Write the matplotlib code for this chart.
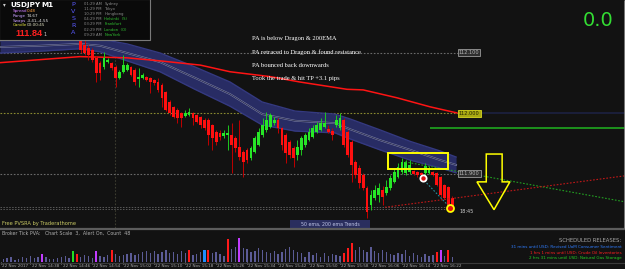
import matplotlib
matplotlib.use("Agg")
import matplotlib.pyplot as plt
import matplotlib.transforms as mtransforms
from matplotlib.patches import Rectangle, Polygon
import numpy as np

# ---------------------------------------------------------------------------- #
# USDJPY M1, 22 Nov 2017 -- candle 0 = 14:51
opens = [112.125, 112.113, 112.108, 112.105, 112.092, 112.083, 112.077, 112.085, 112.083, 112.077,
         112.059, 112.069, 112.072, 112.077, 112.072, 112.057, 112.059, 112.060, 112.059, 112.055,
         112.052, 112.047, 112.035, 112.019, 112.011, 112.006, 112.001, 111.996, 111.998, 112.001,
         111.998, 111.994, 111.989, 111.989, 111.981, 111.969, 111.968, 111.963, 111.964, 111.964,
         111.959, 111.945, 111.936, 111.940, 111.926, 111.936, 111.948, 111.964, 111.973, 111.978,
         111.984, 111.989, 111.976, 111.964, 111.953, 111.943, 111.931, 111.940, 111.948, 111.956,
         111.961, 111.969, 111.973, 111.978, 111.974, 111.971, 111.981, 111.976, 111.989, 111.969,
         111.953, 111.920, 111.910, 111.898, 111.877, 111.849, 111.860, 111.865, 111.873, 111.869,
         111.877, 111.887, 111.895, 111.903, 111.902, 111.903, 111.905, 111.903, 111.902, 111.902,
         111.902, 111.903, 111.902, 111.895, 111.882, 111.878, 111.860]
highs = [112.130, 112.122, 112.113, 112.108, 112.095, 112.087, 112.102, 112.092, 112.085, 112.080,
         112.072, 112.097, 112.083, 112.078, 112.075, 112.075, 112.067, 112.062, 112.060, 112.057,
         112.059, 112.050, 112.037, 112.022, 112.012, 112.009, 112.002, 112.006, 112.009, 112.002,
         111.999, 111.996, 111.993, 111.993, 111.983, 111.973, 111.973, 111.973, 111.981, 111.984,
         111.963, 111.989, 111.940, 111.943, 111.946, 111.963, 111.976, 111.993, 112.002, 112.001,
         111.994, 111.993, 111.978, 111.968, 111.956, 111.946, 111.956, 111.963, 111.968, 111.976,
         111.981, 111.986, 111.993, 112.002, 111.981, 111.976, 111.998, 112.001, 111.993, 111.973,
         111.956, 111.923, 111.915, 111.902, 111.880, 111.873, 111.882, 111.885, 111.880, 111.890,
         111.898, 111.910, 111.918, 111.926, 111.923, 111.923, 111.907, 111.905, 111.903, 111.918,
         111.913, 111.905, 111.903, 111.897, 111.883, 111.880, 111.864]
lows = [112.100, 112.097, 112.088, 112.085, 112.052, 112.055, 112.073, 112.083, 112.072, 112.044,
        112.057, 112.067, 112.070, 112.062, 112.047, 112.044, 112.057, 112.054, 112.034, 112.047,
        112.035, 112.011, 112.004, 111.998, 111.993, 111.984, 111.978, 111.994, 111.996, 111.981,
        111.984, 111.976, 111.973, 111.948, 111.940, 111.948, 111.956, 111.959, 111.940, 111.902,
        111.936, 111.923, 111.895, 111.918, 111.923, 111.935, 111.946, 111.961, 111.969, 111.976,
        111.981, 111.968, 111.940, 111.918, 111.926, 111.912, 111.923, 111.931, 111.945, 111.954,
        111.959, 111.968, 111.971, 111.976, 111.968, 111.956, 111.978, 111.973, 111.945, 111.928,
        111.887, 111.893, 111.877, 111.873, 111.827, 111.841, 111.857, 111.854, 111.849, 111.865,
        111.873, 111.885, 111.893, 111.900, 111.898, 111.900, 111.898, 111.895, 111.897, 111.898,
        111.900, 111.897, 111.880, 111.862, 111.859, 111.837, 111.841]
closes = [112.105, 112.100, 112.097, 112.088, 112.067, 112.067, 112.092, 112.088, 112.075, 112.059,
          112.069, 112.080, 112.080, 112.064, 112.052, 112.060, 112.064, 112.055, 112.052, 112.050,
          112.039, 112.026, 112.006, 112.001, 111.994, 111.993, 111.993, 112.001, 112.002, 111.993,
          111.986, 111.981, 111.976, 111.964, 111.959, 111.953, 111.961, 111.968, 111.968, 111.948,
          111.943, 111.928, 111.920, 111.923, 111.943, 111.959, 111.969, 111.981, 111.989, 111.998,
          111.989, 111.976, 111.948, 111.935, 111.931, 111.926, 111.945, 111.959, 111.964, 111.969,
          111.976, 111.981, 111.984, 111.984, 111.969, 111.964, 111.989, 111.993, 111.948, 111.931,
          111.915, 111.898, 111.885, 111.877, 111.837, 111.865, 111.873, 111.877, 111.862, 111.878,
          111.893, 111.903, 111.912, 111.920, 111.920, 111.915, 111.900, 111.898, 111.898, 111.913,
          111.910, 111.898, 111.882, 111.865, 111.860, 111.845, 111.845]

# 200 EMA (red)
ema_idx = [-20.85, -0.2, 12.0, 20.5, 30.9, 38.6, 48.9, 56.7, 68.8, 73.0, 81.7, 90.3, 97.2]
ema_val = [112.084, 112.094, 112.092, 112.087, 112.080, 112.069, 112.061, 112.052, 112.040,
           112.039, 112.026, 112.011, 112.001]

# Dragon band (50 ema high / close / low)
drag_idx = [-20.85, -10.5, -0.2, 5.0, 12.0, 20.5, 29.5, 38.6, 46.9, 55.4, 65.7, 69.6, 77.3, 85.1, 92.9, 97.0]
drag_hi = [112.120, 112.122, 112.125, 112.123, 112.115, 112.100, 112.077, 112.052, 112.019, 112.004,
           111.999, 111.991, 111.973, 111.954, 111.938, 111.928]
drag_mid = [112.110, 112.112, 112.115, 112.112, 112.100, 112.085, 112.059, 112.032, 111.999, 111.988,
            111.984, 111.974, 111.956, 111.940, 111.923, 111.915]
drag_lo = [112.100, 112.103, 112.107, 112.102, 112.087, 112.069, 112.040, 112.012, 111.981, 111.971,
           111.968, 111.958, 111.940, 111.923, 111.910, 111.902]

# tick volume, bars -21 .. 96
vol_start = -21
volumes = [36, 9, 12, 15, 6, 9, 15, 12, 18, 12, 15, 24, 15, 9, 9, 12, 15, 18, 12, 33, 24,
           15, 21, 18, 12, 33, 18, 15, 21, 36, 24,
           18, 21, 24, 27, 21, 24, 30, 33, 27, 33,
           24, 30, 36, 27, 30, 24, 33, 27, 36, 21,
           24, 30, 36, 36, 27, 30, 24, 18, 69, 39,
           45, 72, 42, 39, 30, 33, 42, 36, 30, 27,
           33, 24, 30, 39, 45, 36, 30, 27, 15, 30,
           21, 27, 15, 27, 18, 24, 21, 18, 27, 42,
           57, 36, 45, 36, 30, 45, 33, 27, 36, 30,
           24, 21, 27, 24, 36, 18, 27, 21, 15, 24,
           18, 21, 30, 36, 18, 36, 15]
vol_special = {-21: 'r', -10: 'm', -2: 'g', -1: 'r', 4: 'm', 8: 'r', 28: 'r', 32: 'b', 33: 'r',
               38: 'r', 41: 'm', 68: 'r', 69: 'r', 70: 'r', 92: 'r', 93: 'm', 95: 'r'}
vol_colors = {'n': '#5b5b96', 'r': '#ff1a1a', 'm': '#c23cff', 'g': '#22dd22', 'b': '#1e8fff'}

# price levels
levels = [112.100, 112.000, 111.900]
level_names = ['112.100', '112.000', '111.900']
bid_ask = [111.846, 111.842]

# time axis
time_idx = [-20.7, -13, -5, 3, 11, 19, 27, 35, 43, 51, 59, 67, 75, 83, 91]
time_labels = ['22 Nov 2017', '22 Nov 14:38', '22 Nov 14:46', '22 Nov 14:54', '22 Nov 15:02',
               '22 Nov 15:10', '22 Nov 15:18', '22 Nov 15:26', '22 Nov 15:34', '22 Nov 15:42',
               '22 Nov 15:50', '22 Nov 15:58', '22 Nov 16:06', '22 Nov 16:14', '22 Nov 16:22']

# drawings on the chart
trade_box = (79.5, 111.9083, 95.0, 111.9347)
sell_arrow = [(104.8, 111.933), (108.9, 111.933), (108.9, 111.887), (110.9, 111.887),
              (106.8, 111.841), (102.4, 111.887), (104.8, 111.887)]
green_trend = ([83.8, 140.65], [111.920, 111.854])
red_trend = ([78.6, 140.65], [111.845, 111.897])
teal_trend = ([88.2, 95.4], [111.893, 111.845])
entry_pt = (88.4, 111.893)
exit_pt = (95.4, 111.844)
tp_line = (90.3, 111.976)

notes = ['PA is below Dragon & 200EMA',
         'PA retraced to Dragon & found resistance',
         'PA bounced back downwards',
         'Took the trade & hit TP +3.1 pips']

sessions = [('01:29 AM', 'Sydney'), ('11:29 PM', 'Tokyo'), ('10:29 PM', 'Hongkong'),
            ('04:29 PM', 'Helsinki  (S)'), ('03:29 PM', 'Frankfurt'), ('02:29 PM', 'London  (O)'),
            ('09:29 AM', 'NewYork')]
session_open = [False, False, False, True, True, True, True]

releases = [('31 mins until USD: Revised UoM Consumer Sentiment', '#2f7dff'),
            ('1 hrs 1 mins until USD: Crude Oil Inventories', '#ff2020'),
            ('2 hrs 31 mins until USD: Natural Gas Storage', '#22cc22')]

# ---------------------------------------------------------------------------- #
W, H = 625, 269
BG = '#121212'
X_LEFT, X_RIGHT = -20.853, 140.65
P_TOP = 112.1876
P_BOTTOM = P_TOP - 228 / 605.0

fig = plt.figure(figsize=(W / 100, H / 100), dpi=100, facecolor=BG)

# main price panel
ax = fig.add_axes([0, 41 / H, 1, 228 / H])
ax.set_xlim(X_LEFT, X_RIGHT)
ax.set_ylim(P_BOTTOM, P_TOP)
ax.set_axis_off()

# grid / level lines
ax.vlines(8.9, P_BOTTOM, P_TOP, color='#3c3c30', lw=0.8, linestyles=(0, (1.5, 1.5)), zorder=0)
lvl_cols = ['#6a6a6a', '#8a8a30', '#6a6a6a']
for lv, col in zip(levels, lvl_cols):
    ax.hlines(lv, X_LEFT, 97.5, color=col, lw=0.8, linestyles=(0, (1.5, 1.5)), zorder=1)
ax.hlines(levels[1], 103.2, X_RIGHT, color='#1c2142', lw=1.2, zorder=1)
for lv in bid_ask:
    ax.hlines(lv, X_LEFT, 96.8, color='#5a5a5a', lw=0.7, linestyles=(0, (1.5, 1.5)), zorder=1)

# dragon band
ax.fill_between(drag_idx, drag_lo, drag_hi, color='#282c64', lw=0, zorder=1)
ax.plot(drag_idx, drag_hi, color='#343980', lw=1.0, zorder=1)
ax.plot(drag_idx, drag_lo, color='#343980', lw=1.0, zorder=1)
ax.plot(drag_idx, drag_mid, color='#7c80a8', lw=1.3, zorder=1)
ax.plot(drag_idx, drag_mid, color='#1e2040', lw=0.5, zorder=1)

# 200 ema
ax.plot(ema_idx, ema_val, color='#ff1414', lw=1.1, zorder=2)

# candles
o = np.array(opens); h = np.array(highs); l = np.array(lows); c = np.array(closes)
idx = np.arange(len(c))
up = c >= o
ax.vlines(idx[up], l[up], h[up], color='#1ec81e', lw=0.7, zorder=3)
ax.vlines(idx[~up], l[~up], h[~up], color='#c00000', lw=0.7, zorder=3)
ax.bar(idx[up], c[up] - o[up], bottom=o[up], width=0.72, color='#27e627', lw=0, zorder=3)
ax.bar(idx[~up], o[~up] - c[~up], bottom=c[~up], width=0.72, color='#ff1010', lw=0, zorder=3)

# trade drawings
x0, y0, x1, y1 = trade_box
ax.add_patch(Rectangle((x0, y0), x1 - x0, y1 - y0, fill=False, ec='#ffff00', lw=1.4, zorder=5))
ax.add_patch(Polygon(sell_arrow, closed=True, fill=False, ec='#ffff00', lw=1.1, zorder=5))
ax.plot(*green_trend, color='#22a022', lw=0.8, ls=(0, (1.5, 1.5)), zorder=4)
ax.plot(*red_trend, color='#c01818', lw=0.8, ls=(0, (1.5, 1.5)), zorder=4)
ax.plot(*teal_trend, color='#2a8a9a', lw=0.8, ls=(0, (1.5, 1.5)), zorder=4)
ax.hlines(tp_line[1], tp_line[0], X_RIGHT, color='#1fa81f', lw=1.2, zorder=4)
ax.plot(*entry_pt, 'o', ms=4.5, mfc='#e01010', mec='white', mew=1.3, zorder=6)
ax.plot(*exit_pt, 'o', ms=5, mfc='#e01010', mec='#ffff00', mew=1.3, zorder=6)

# level labels
lbl_style = [('#2e2e2e', '#9a9a9a', '#b8b8b8'), ('#a8a812', '#d8d820', '#202000'),
             ('#2e2e2e', '#9a9a9a', '#b8b8b8')]
for lv, name, (fc, ec, tc) in zip(levels, level_names, lbl_style):
    ax.text(97.7, lv, name, fontsize=3.6, color=tc, ha='left', va='center', zorder=7,
            bbox=dict(boxstyle='square,pad=0.2', fc=fc, ec=ec, lw=0.6))
ax.text(98.0, bid_ask[1], '18:45', fontsize=3.6, color='#d0d0d0', ha='left', va='top', zorder=7)

# volume panel
axv = fig.add_axes([0, 7 / H, 1, 33 / H])
axv.set_xlim(X_LEFT, X_RIGHT)
axv.set_ylim(0, 99)
axv.set_axis_off()
vidx = np.arange(vol_start, vol_start + len(volumes))
vcol = [vol_colors[vol_special.get(i, 'n')] for i in vidx]
vwid = [0.55 if i in vol_special else 0.35 for i in vidx]
axv.bar(vidx, volumes, width=vwid, color=vcol, lw=0)

tr = mtransforms.blended_transform_factory(axv.transData, axv.transAxes)
for ti, tl in zip(time_idx, time_labels):
    axv.text(ti + 0.3, -0.12, tl, transform=tr, fontsize=3.0, color='#a8a8a8',
             ha='left', va='center', clip_on=False)
    axv.plot([ti, ti], [0, -0.06], transform=tr, color='#808080', lw=0.5, clip_on=False)

# overlay in pixel coordinates: panels, info box, texts
ov = fig.add_axes([0, 0, 1, 1])
ov.set_xlim(0, W)
ov.set_ylim(H, 0)
ov.set_axis_off()
ov.set_zorder(10)

ov.hlines(228.5, 0, W, color='#5c5c5c', lw=1.6)
ov.hlines(262.6, 0, W, color='#3a3a3a', lw=0.8)
ov.vlines(623.5, 0, 228, color='#8a8a8a', lw=0.6)

# info box
ov.add_patch(Rectangle((-1, -1), 151, 40.5, fc='#0a0a0a', ec='#7a7a7a', lw=0.8))
ov.text(3, 4.5, '\u25be', fontsize=4, color='#d0d0d0', va='center')
ov.text(10, 4.8, 'USDJPY', fontsize=5.2, color='white', fontweight='bold', va='center')
ov.text(41, 4.8, 'M1', fontsize=5.2, color='white', fontweight='bold', va='center')
info_rows = [('Spread', '0.48', '#d080ff', '#ffa040'), ('Range', '74.67', '#c8a0ff', '#e0e0e0'),
             ('Swaps', '-3.41,-4.55', '#c8a0ff', '#e0e0e0'), ('Candle', '00:00:45', '#e0e040', '#e0e0c0')]
for k, (lab, val, lc, vc) in enumerate(info_rows):
    yy = 11 + k * 4.8
    ov.text(13, yy, lab, fontsize=3.0, color=lc, va='center')
    ov.text(27, yy, val, fontsize=3.0, color=vc, va='center')
ov.text(15, 33.5, '111.84', fontsize=6.6, color='#ff2020', fontweight='bold', va='center',
        family='Liberation Sans')
ov.text(43, 34.5, '1', fontsize=3.6, color='#d0d0d0', va='center')
for k, ch in enumerate('PVSRA'):
    ov.text(73.5, 5 + k * 6.8, ch, fontsize=4.6, color='#5a5aff', ha='center', va='center')
for k, ((tm, city), is_open) in enumerate(zip(sessions, session_open)):
    yy = 3.6 + k * 5.2
    ov.text(84.5, yy, tm, fontsize=2.7, color='#8c8c8c', va='center')
    ov.text(104.5, yy, city, fontsize=2.7, color='#30c030' if is_open else '#8c8c8c', va='center')

# trade notes
for k, t in enumerate(notes):
    ov.text(252.5, 38.5 + k * 13.4, t, fontsize=4.7, color='white', va='center',
            family='Liberation Serif')

ov.text(614, 21, '0.0', fontsize=14, color='#33dd33', ha='right', va='center')
ov.text(2.5, 223.3, 'Free PVSRA by Traderathome', fontsize=3.7, color='#c8c864', va='center')
ov.add_patch(Rectangle((290, 219.5), 80, 8.5, fc='#2a2e5e', ec='none'))
ov.text(330, 223.8, '50 ema, 200 ema Trends', fontsize=3.4, color='#c0c6e8', ha='center', va='center')
ov.text(2, 233.2, 'Broker Tick PVA:   Chart Scale  3,  Alert On,  Count  48', fontsize=3.4,
        color='#b0b0b0', va='center')

ov.text(621.5, 240.7, 'SCHEDULED RELEASES:', fontsize=3.8, color='#a8a8a8', ha='right', va='center')
for k, (t, col) in enumerate(releases):
    ov.text(621.5, 247.3 + k * 5.2, t, fontsize=3.0, color=col, ha='right', va='center')

fig.savefig('out.png', dpi=100, facecolor=BG)
